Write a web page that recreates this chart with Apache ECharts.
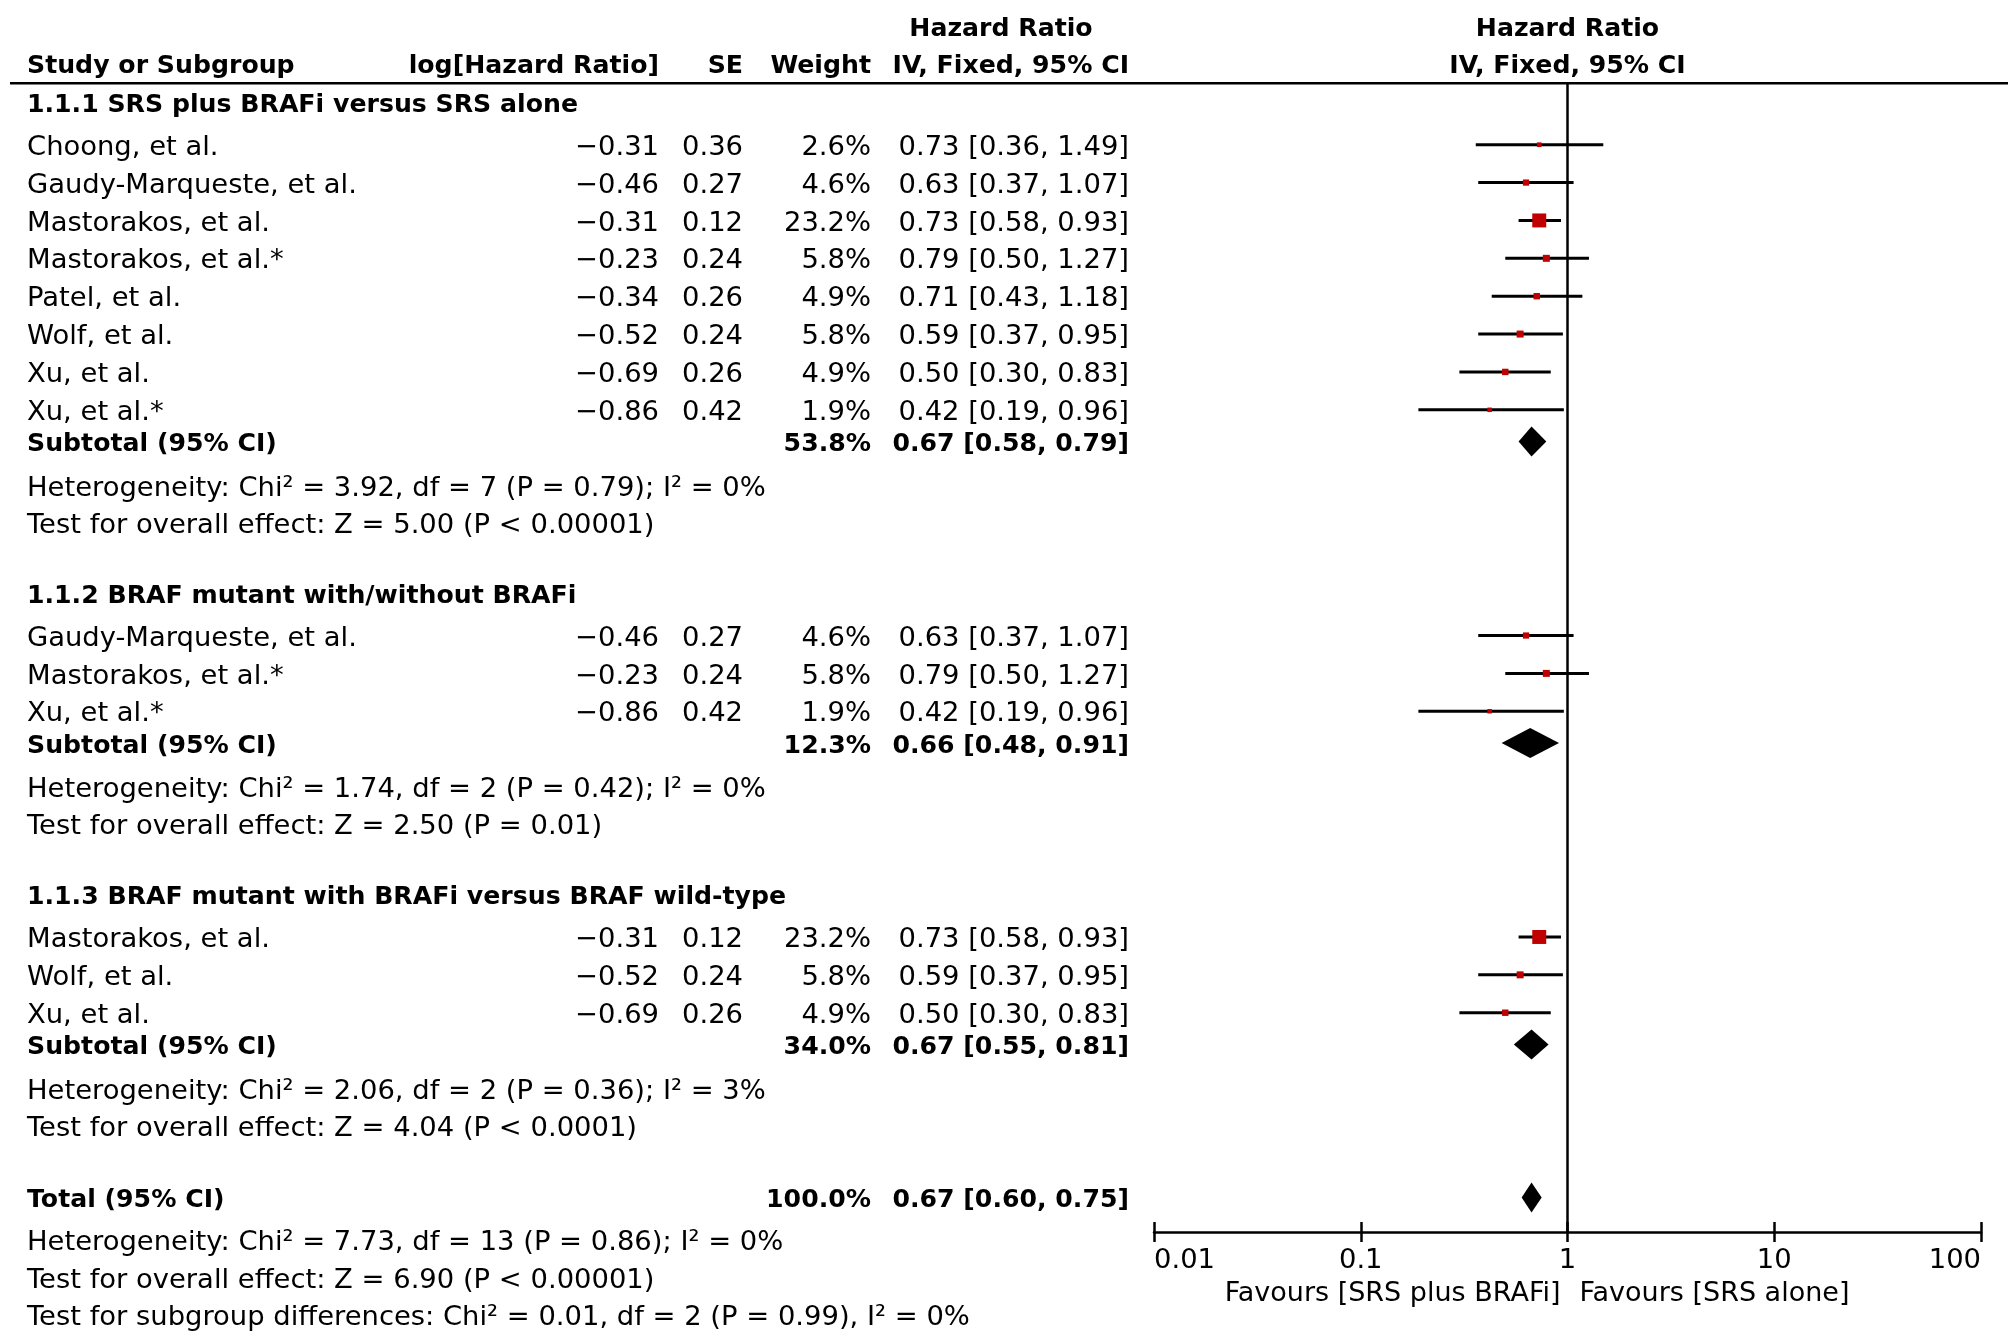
<!DOCTYPE html>
<html>
<head>
<meta charset="utf-8">
<title>Forest plot</title>
<script src="https://cdn.jsdelivr.net/npm/echarts@6/dist/echarts.min.js"></script>
<style>
  html, body { margin: 0; padding: 0; background: #fff; }
  #main { width: 2008px; height: 1342px; }
</style>
</head>
<body>
<div id="main"></div>
<script>
// data
var groupTitles = [
  '1.1.1 SRS plus BRAFi versus SRS alone',
  '1.1.2 BRAF mutant with/without BRAFi',
  '1.1.3 BRAF mutant with BRAFi versus BRAF wild-type'
];
var studyGroup = [0, 0, 0, 0, 0, 0, 0, 0, 1, 1, 1, 2, 2, 2];
var studyNames = [
  'Choong, et al.', 'Gaudy-Marqueste, et al.', 'Mastorakos, et al.', 'Mastorakos, et al.*',
  'Patel, et al.', 'Wolf, et al.', 'Xu, et al.', 'Xu, et al.*',
  'Gaudy-Marqueste, et al.', 'Mastorakos, et al.*', 'Xu, et al.*',
  'Mastorakos, et al.', 'Wolf, et al.', 'Xu, et al.'
];
var logHR   = [-0.31, -0.46, -0.31, -0.23, -0.34, -0.52, -0.69, -0.86, -0.46, -0.23, -0.86, -0.31, -0.52, -0.69];
var seVals  = [0.36, 0.27, 0.12, 0.24, 0.26, 0.24, 0.26, 0.42, 0.27, 0.24, 0.42, 0.12, 0.24, 0.26];
var weights = [2.6, 4.6, 23.2, 5.8, 4.9, 5.8, 4.9, 1.9, 4.6, 5.8, 1.9, 23.2, 5.8, 4.9];
var hrVals  = [0.73, 0.63, 0.73, 0.79, 0.71, 0.59, 0.50, 0.42, 0.63, 0.79, 0.42, 0.73, 0.59, 0.50];
var ciLow   = [0.36, 0.37, 0.58, 0.50, 0.43, 0.37, 0.30, 0.19, 0.37, 0.50, 0.19, 0.58, 0.37, 0.30];
var ciHigh  = [1.49, 1.07, 0.93, 1.27, 1.18, 0.95, 0.83, 0.96, 1.07, 1.27, 0.96, 0.93, 0.95, 0.83];

var subWeight = [53.8, 12.3, 34.0];
var subHR     = [0.67, 0.66, 0.67];
var subLow    = [0.58, 0.48, 0.55];
var subHigh   = [0.79, 0.91, 0.81];
var subHet = [
  'Heterogeneity: Chi\u00b2 = 3.92, df = 7 (P = 0.79); I\u00b2 = 0%',
  'Heterogeneity: Chi\u00b2 = 1.74, df = 2 (P = 0.42); I\u00b2 = 0%',
  'Heterogeneity: Chi\u00b2 = 2.06, df = 2 (P = 0.36); I\u00b2 = 3%'
];
var subTest = [
  'Test for overall effect: Z = 5.00 (P < 0.00001)',
  'Test for overall effect: Z = 2.50 (P = 0.01)',
  'Test for overall effect: Z = 4.04 (P < 0.0001)'
];
var totalWeight = 100.0;
var totalHR = [0.67, 0.60, 0.75];
var totalNotes = [
  'Heterogeneity: Chi\u00b2 = 7.73, df = 13 (P = 0.86); I\u00b2 = 0%',
  'Test for overall effect: Z = 6.90 (P < 0.00001)',
  'Test for subgroup differences: Chi\u00b2 = 0.01, df = 2 (P = 0.99), I\u00b2 = 0%'
];
var xTicks = [0.01, 0.1, 1, 10, 100];
var favours = ['Favours [SRS plus BRAFi]', 'Favours [SRS alone]'];

// layout
var FONT = '"DejaVu Sans", sans-serif';
var FS = 27.4;      // regular text
var FSB = 25.2;     // bold text
var TEXT_DY = 3;    // nudge so glyphs sit centred on the row
var colStudy = 27, colLog = 659, colSE = 743, colWeight = 871, colCI = 1129;

function f2(v) { return (v < 0 ? '\u2212' : '') + Math.abs(v).toFixed(2); }
function ci(h, l, u) { return h.toFixed(2) + ' [' + l.toFixed(2) + ', ' + u.toFixed(2) + ']'; }

var rows = [];     // text rows
var marks = [];    // [hr, lo, hi, weight, line]
var diamonds = []; // [hr, lo, hi, line]

rows.push({ L: -3.11, cells: [
  { x: 1001, align: 'center', text: 'Hazard Ratio', bold: true },
  { forest: 0, align: 'center', text: 'Hazard Ratio', bold: true }
]});
rows.push({ L: -2.14, cells: [
  { x: colStudy, align: 'left', text: 'Study or Subgroup', bold: true },
  { x: colLog, align: 'right', text: 'log[Hazard Ratio]', bold: true },
  { x: colSE, align: 'right', text: 'SE', bold: true },
  { x: colWeight, align: 'right', text: 'Weight', bold: true },
  { x: colCI, align: 'right', text: 'IV, Fixed, 95% CI', bold: true },
  { forest: 0, align: 'center', text: 'IV, Fixed, 95% CI', bold: true }
]});

var L = -1.12;
groupTitles.forEach(function (title, g) {
  rows.push({ L: L, cells: [{ x: colStudy, align: 'left', text: title, bold: true }] });
  L += 1.12;
  var first = true;
  for (var i = 0; i < studyNames.length; i++) {
    if (studyGroup[i] !== g) continue;
    if (!first) L += 1;
    first = false;
    rows.push({ L: L, cells: [
      { x: colStudy, align: 'left', text: studyNames[i] },
      { x: colLog, align: 'right', text: f2(logHR[i]) },
      { x: colSE, align: 'right', text: seVals[i].toFixed(2) },
      { x: colWeight, align: 'right', text: weights[i].toFixed(1) + '%' },
      { x: colCI, align: 'right', text: ci(hrVals[i], ciLow[i], ciHigh[i]) }
    ]});
    marks.push([hrVals[i], ciLow[i], ciHigh[i], weights[i], L]);
  }
  L += 0.84;
  rows.push({ L: L, cells: [
    { x: colStudy, align: 'left', text: 'Subtotal (95% CI)', bold: true },
    { x: colWeight, align: 'right', text: subWeight[g].toFixed(1) + '%', bold: true },
    { x: colCI, align: 'right', text: ci(subHR[g], subLow[g], subHigh[g]), bold: true }
  ]});
  diamonds.push([subHR[g], subLow[g], subHigh[g], L]);
  L += 1.16;
  rows.push({ L: L, cells: [{ x: colStudy, align: 'left', text: subHet[g] }] });
  L += 0.98;
  rows.push({ L: L, cells: [{ x: colStudy, align: 'left', text: subTest[g] }] });
  L += (g < groupTitles.length - 1) ? 1.86 : 1.9;
});
rows.push({ L: L, cells: [
  { x: colStudy, align: 'left', text: 'Total (95% CI)', bold: true },
  { x: colWeight, align: 'right', text: totalWeight.toFixed(1) + '%', bold: true },
  { x: colCI, align: 'right', text: ci(totalHR[0], totalHR[1], totalHR[2]), bold: true }
]});
diamonds.push([totalHR[0], totalHR[1], totalHR[2], L]);
L += 1.11;
totalNotes.forEach(function (t) {
  rows.push({ L: L, cells: [{ x: colStudy, align: 'left', text: t }] });
  L += 1;
});
rows.push({ L: 30.27, fs: 27, cells: [
  { forest: -7, align: 'right', text: favours[0] },
  { forest: 12, align: 'left', text: favours[1] }
]});

var myChart = echarts.init(document.getElementById('main'));

function txt(x, y, text, align, bold, size) {
  return {
    type: 'text',
    style: {
      x: x, y: y + TEXT_DY, text: text,
      textAlign: align, align: align,
      textVerticalAlign: 'middle', verticalAlign: 'middle',
      font: (bold ? 'bold ' + FSB : (size || FS)) + 'px ' + FONT,
      fill: '#000'
    }
  };
}

var option = {
  animation: false,
  backgroundColor: '#fff',
  grid: { left: 1154, right: 27, top: 83.2, bottom: 110 },
  xAxis: [{
    type: 'log', logBase: 10, min: 0.01, max: 100, position: 'bottom',
    axisLine: { onZero: false, lineStyle: { color: '#000', width: 2.5 } },
    axisTick: { show: true, inside: false, length: 10, lineStyle: { color: '#000', width: 2.5 } },
    minorTick: { show: false },
    splitLine: { show: false },
    axisLabel: {
      color: '#000', fontFamily: FONT, fontSize: FS, margin: 15.5,
      alignMinLabel: 'left', alignMaxLabel: 'right',
      formatter: function (v) { return String(Number(v.toPrecision(6))); }
    }
  }, {
    type: 'log', logBase: 10, min: 0.01, max: 100, position: 'bottom',
    axisLine: { show: false, onZero: false },
    axisTick: { show: true, inside: true, length: 10, lineStyle: { color: '#000', width: 2.5 } },
    splitLine: { show: false },
    axisLabel: { show: false }
  }],
  yAxis: {
    type: 'value', inverse: true, min: -1.624, max: 28.71, show: false,
    splitLine: { show: false }
  },
  graphic: [{
    type: 'line', shape: { x1: 10, y1: 83.2, x2: 2008, y2: 83.2 },
    style: { stroke: '#000', lineWidth: 2.5 }
  }],
  series: [{
    type: 'custom',
    name: 'studies',
    clip: false,
    data: marks,
    encode: { x: 0, y: 4 },
    renderItem: function (params, api) {
      var c = api.coord([api.value(0), api.value(4)]);
      var a = api.coord([api.value(1), api.value(4)]);
      var b = api.coord([api.value(2), api.value(4)]);
      var s = Math.max(4.5, 2.9 * Math.sqrt(api.value(3)));
      return {
        type: 'group',
        children: [{
          type: 'line',
          shape: { x1: a[0], y1: a[1], x2: b[0], y2: b[1] },
          style: { stroke: '#000', lineWidth: 3 }
        }, {
          type: 'rect',
          shape: { x: c[0] - s / 2, y: c[1] - s / 2, width: s, height: s },
          style: { fill: '#c00000' }
        }]
      };
    },
    markLine: {
      silent: true, symbol: 'none', label: { show: false },
      lineStyle: { color: '#000', width: 2.5, type: 'solid' },
      data: [{ xAxis: 1 }]
    }
  }, {
    type: 'custom',
    name: 'pooled',
    clip: false,
    data: diamonds,
    encode: { x: 0, y: 3 },
    renderItem: function (params, api) {
      var c = api.coord([api.value(0), api.value(3)]);
      var a = api.coord([api.value(1), api.value(3)]);
      var b = api.coord([api.value(2), api.value(3)]);
      var h = 15;
      return {
        type: 'polygon',
        shape: { points: [[a[0], c[1]], [c[0], c[1] - h], [b[0], c[1]], [c[0], c[1] + h]] },
        style: { fill: '#000' }
      };
    }
  }, {
    type: 'custom',
    name: 'table',
    clip: false,
    silent: true,
    data: rows.map(function (r) { return [1, r.L]; }),
    encode: { x: 0, y: 1 },
    renderItem: function (params, api) {
      var r = rows[params.dataIndex];
      var p = api.coord([1, r.L]);
      return {
        type: 'group',
        children: r.cells.map(function (cell) {
          var x = (cell.forest !== undefined) ? p[0] + cell.forest : cell.x;
          return txt(x, p[1], cell.text, cell.align, cell.bold, r.fs);
        })
      };
    }
  }]
};

myChart.setOption(option);
</script>
</body>
</html>
